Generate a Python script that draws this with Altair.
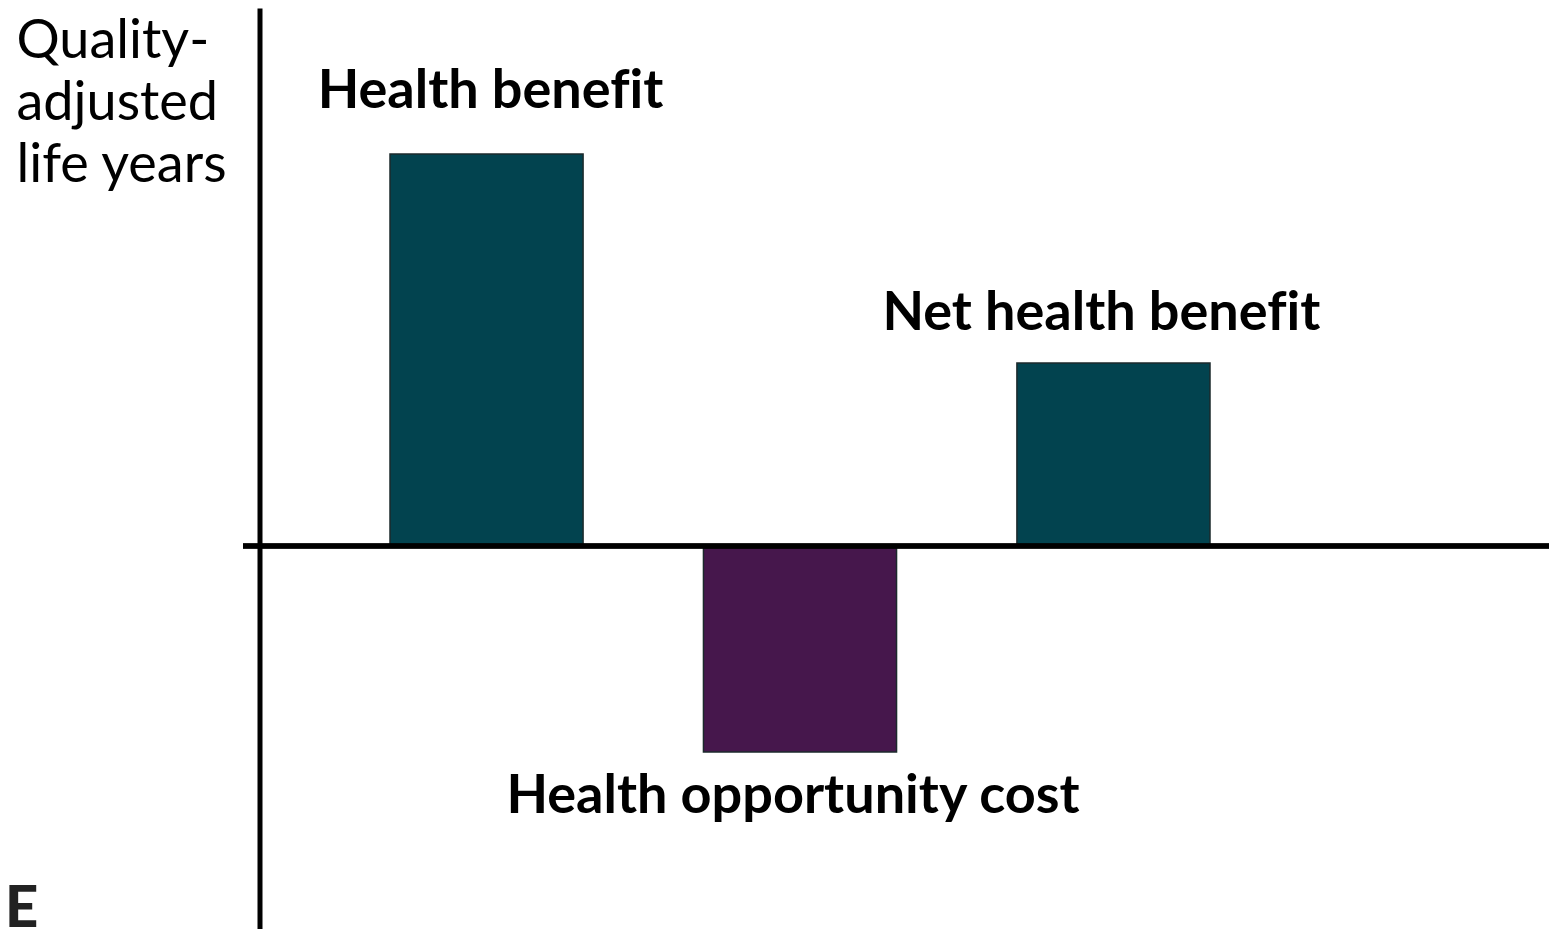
import altair as alt
import pandas as pd

categories = ["Health benefit", "Health opportunity cost", "Net health benefit"]
labels = ["Health benef\u200cit", "Health opportunity cost", "Net health benef\u200cit"]
values = [3.92, -2.06, 1.83]
kinds = ["benefit", "cost", "benefit"]
axis_title = ["Quality-", "adjusted", "life years"]

df = pd.DataFrame({"category": categories, "label": labels, "value": values, "kind": kinds})

FONT = "Lato"
W, H = 1306, 921

x_enc = alt.X("category:N", sort=categories,
              scale=alt.Scale(range=[147, 967], paddingInner=0.384, paddingOuter=0),
              axis=None)
y_scale = alt.Scale(domain=[-3.83, 5.38], nice=False, zero=False)

bars = alt.Chart(df).mark_bar(stroke="#1c2a2c", strokeWidth=1.5).encode(
    x=x_enc,
    y=alt.Y("value:Q", scale=y_scale,
            axis=alt.Axis(title=axis_title, titleAngle=0, titleAlign="left",
                          titleBaseline="alphabetic", titleX=-243.5, titleY=49,
                          titleFont=FONT, titleFontSize=54, titleFontWeight="normal",
                          titleColor="#000", titleLineHeight=62,
                          labels=False, ticks=False, grid=False,
                          domainColor="#000", domainWidth=5, offset=-16.5)),
    y2=alt.datum(0),
    color=alt.Color("kind:N", scale=alt.Scale(domain=["benefit", "cost"],
                                              range=["#02434F", "#46174C"]),
                    legend=None),
)

zero = alt.Chart(df).mark_rule(color="#000", strokeWidth=5).encode(y=alt.datum(0))

def label(cat, dx, dy):
    return alt.Chart(df).transform_filter(alt.datum.category == cat).mark_text(
        font=FONT, fontSize=54, fontWeight="bold", color="#000",
        baseline="alphabetic", align="center", dx=dx, dy=dy,
    ).encode(x=x_enc, y=alt.Y("value:Q", scale=y_scale), text="label:N")

lab1 = label("Health benefit", 4, -46)
lab2 = label("Health opportunity cost", -7, 61)
lab3 = label("Net health benefit", -12, -33)

logo = alt.Chart(df.head(1)).mark_text(
    font=FONT, fontSize=58, fontWeight=900, color="#222", align="left",
    baseline="alphabetic").encode(x=alt.value(-238), y=alt.value(919), text=alt.value("E"))

chart = alt.layer(bars, zero, lab1, lab2, lab3, logo).properties(
    width=W, height=H,
    autosize=alt.AutoSizeParams(type="none"),
    padding={"left": 235, "top": 0, "right": 0, "bottom": 0},
).configure_view(stroke=None)

chart.save("out.html", embed_options={"renderer": "svg", "actions": False})
